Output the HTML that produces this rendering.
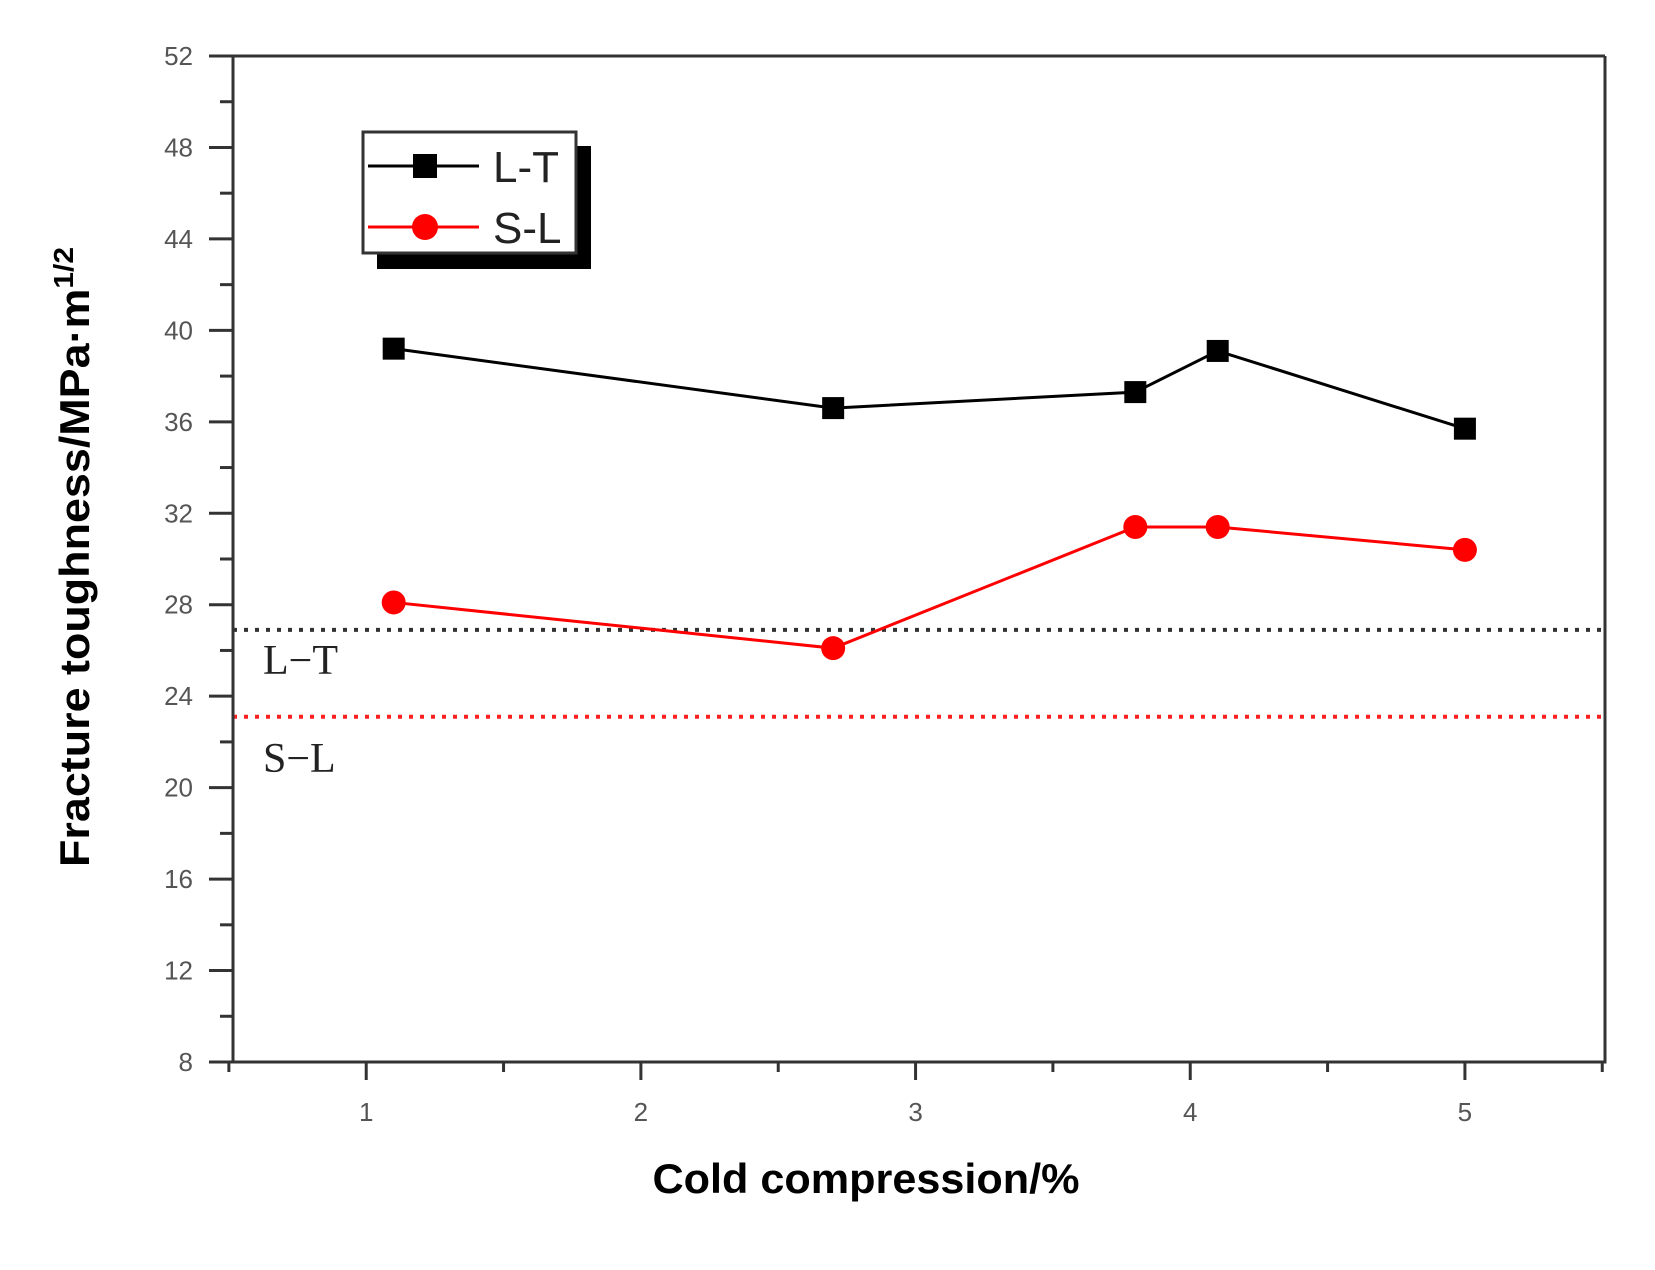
<!DOCTYPE html>
<html><head><meta charset="utf-8"><style>
html,body{margin:0;padding:0;background:#fff;}
svg{display:block;}
</style></head><body>
<svg id="chart" width="1655" height="1270" viewBox="0 0 1655 1270" xmlns="http://www.w3.org/2000/svg">
<rect width="1655" height="1270" fill="#fff"/>
<g id="plot"></g>
</svg>
<script>
const xValues = [1.1, 2.7, 3.8, 4.1, 5.0];
const ltValues = [39.2, 36.6, 37.3, 39.1, 35.7];
const slValues = [28.1, 26.1, 31.4, 31.4, 30.4];
const xTicks = [1, 2, 3, 4, 5];
const yTicks = [8, 12, 16, 20, 24, 28, 32, 36, 40, 44, 48, 52];
const refLines = [26.9, 23.1];

const X0 = 233, X1 = 1605, Y0 = 1062, Y1 = 56;
const xMin = 0.515, xMax = 5.51, yMin = 8, yMax = 52;
function sx(v){ return X0 + (v - xMin) / (xMax - xMin) * (X1 - X0); }
function sy(v){ return Y0 - (v - yMin) / (yMax - yMin) * (Y0 - Y1); }

const NS = "http://www.w3.org/2000/svg";
const g = document.getElementById('plot');
function mk(tag, attrs, parent){
  const e = document.createElementNS(NS, tag);
  for (const k in attrs) e.setAttribute(k, attrs[k]);
  (parent || g).appendChild(e);
  return e;
}

const refColors = ['#333', '#ff2020'];
refLines.forEach((v, i) => {
  const l = mk('line', {x1: X0, x2: X1, y1: sy(v), y2: sy(v), stroke: refColors[i], 'stroke-width': 4, 'stroke-dasharray': '4 7'});
  
  
});

const ax = mk('path', {d: `M${X0},${Y1} V${Y0} H${X1} V${Y1} M209,${Y1} H${X1}`, stroke: '#333', 'stroke-width': 3, fill: 'none'});



for (let v = yMin; v <= yMax; v += 2) {
  const major = (v - yMin) % 4 === 0;
  const t = mk('line', {x1: major ? 209 : 220, x2: X0, y1: sy(v), y2: sy(v), stroke: '#333', 'stroke-width': 3});
  
  
}
yTicks.forEach(v => {
  const t = mk('text', {x: 193, y: sy(v) + 9, 'text-anchor': 'end', 'font-family': 'Liberation Sans, sans-serif', 'font-size': 26, fill: '#555'});
  t.textContent = v;
  
  
});
for (let v = 0.5; v <= 5.5 + 0.001; v += 0.5) {
  const major = Math.abs(v - Math.round(v)) < 0.01;
  const t = mk('line', {x1: sx(v), x2: sx(v), y1: Y0, y2: Y0 + (major ? 18 : 10), stroke: '#333', 'stroke-width': 3});
  
  
}
xTicks.forEach(v => {
  const t = mk('text', {x: sx(v), y: 1121, 'text-anchor': 'middle', 'font-family': 'Liberation Sans, sans-serif', 'font-size': 26, fill: '#555'});
  t.textContent = v;
  
  
});

function series(vals, color, shape, name){
  const pts = xValues.map((x, i) => sx(x) + ',' + sy(vals[i])).join(' ');
  const pl = mk('polyline', {points: pts, fill: 'none', stroke: color, 'stroke-width': 3});
  
  
  xValues.forEach((x, i) => {
    let m;
    if (shape === 'square') m = mk('rect', {x: sx(x) - 11, y: sy(vals[i]) - 11, width: 22, height: 22, fill: color});
    else m = mk('circle', {cx: sx(x), cy: sy(vals[i]), r: 12, fill: color});
    
    
  });
}
series(ltValues, '#000', 'square', 'lt');
series(slValues, '#ff0000', 'circle', 'sl');
</script>
<svg style="position:absolute;left:0;top:0" width="1655" height="1270" xmlns="http://www.w3.org/2000/svg">
<g>
<rect x="377" y="146" width="214" height="123" fill="#000"/>
<rect x="363" y="132" width="213" height="121" fill="#fff" stroke="#333" stroke-width="3"/>
<line x1="368" y1="166" x2="479" y2="166" stroke="#000" stroke-width="3"/>
<rect x="413" y="154" width="24" height="24" fill="#000"/>
<text x="493" y="182" font-family="Liberation Sans, sans-serif" font-size="44" fill="#222">L-T</text>
<line x1="368" y1="227" x2="479" y2="227" stroke="#ff0000" stroke-width="3"/>
<circle cx="425" cy="227" r="13" fill="#ff0000"/>
<text x="493" y="243" font-family="Liberation Sans, sans-serif" font-size="44" fill="#222">S-L</text>
</g>
<text x="263" y="674" font-family="Liberation Serif, serif" font-size="42" fill="#222">L−T</text>
<text x="263" y="772" font-family="Liberation Serif, serif" font-size="42" fill="#222">S−L</text>
<text x="866" y="1193" text-anchor="middle" font-family="Liberation Sans, sans-serif" font-weight="bold" font-size="42" textLength="427" lengthAdjust="spacingAndGlyphs" fill="#000">Cold compression/%</text>
<text transform="translate(89,557) rotate(-90)" text-anchor="middle" font-family="Liberation Sans, sans-serif" font-weight="bold" font-size="42" textLength="620" lengthAdjust="spacingAndGlyphs" fill="#000">Fracture toughness/MPa·m<tspan dy="-16" font-size="28">1/2</tspan></text>
</svg>
</body></html>
